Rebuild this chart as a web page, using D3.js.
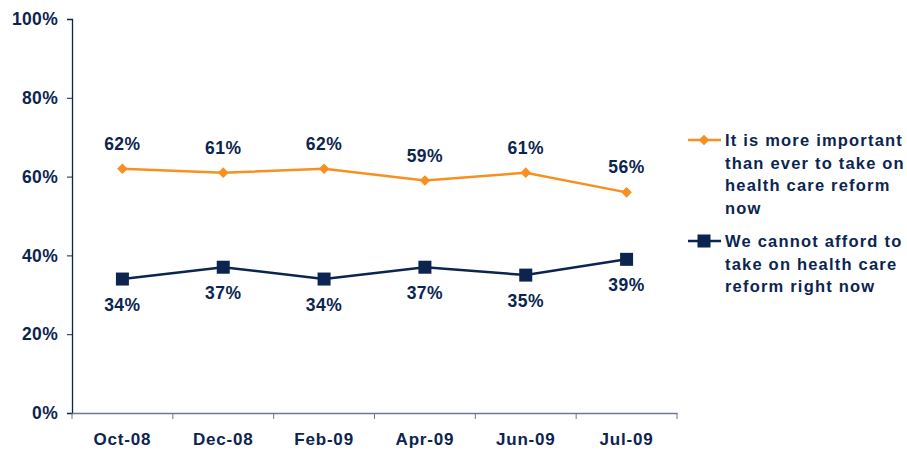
<!DOCTYPE html>
<html><head><meta charset="utf-8">
<script src="https://cdn.jsdelivr.net/npm/d3@7"></script>
<style>body{margin:0;background:#fff}svg{display:block}text{font-family:"Liberation Sans",Arial,sans-serif;font-weight:bold;fill:#0c2550}</style>
</head><body><svg id="c" width="907" height="451"></svg>
<script>
const categories = ["Oct-08","Dec-08","Feb-09","Apr-09","Jun-09","Jul-09"];
const importantValues = [62,61,62,59,61,56];
const cannotValues = [34,37,34,37,35,39];
const yTicks = [0,20,40,60,80,100];
const seriesNames = ["It is more important than ever to take on health care reform now","We cannot afford to take on health care reform right now"];
const legendLines = [["It is more important","than ever to take on","health care reform","now"],["We cannot afford to","take on health care","reform right now"]];

const navy="#0c2550", orange="#f7901e";
const svg=d3.select("#c");
const x=d3.scaleBand().domain(categories).range([72,677]);
const y=d3.scaleLinear().domain([0,100]).range([413,19]);

const yAxis=svg.append("g").attr("transform","translate(72,0)")
 .call(d3.axisLeft(y).tickValues(yTicks).tickFormat(d=>d+"%").tickSize(5).tickPadding(9));
yAxis.select(".domain").attr("stroke",navy).attr("stroke-width",1.3);
yAxis.selectAll(".tick line").attr("stroke",navy);
yAxis.selectAll("text").style("font-size","17.5px").style("letter-spacing","0.3px").attr("fill",navy);

const xAxis=svg.append("g").attr("transform","translate(0,413)")
 .call(d3.axisBottom(x).tickSize(0).tickPadding(20));
xAxis.select(".domain").attr("stroke","#6b7890").attr("stroke-width",1.3);
xAxis.selectAll("text").style("font-size","17px").style("letter-spacing","0.8px").attr("fill",navy);
const bounds=[...categories.map(c=>x(c)),677];
svg.append("g").selectAll("line").data(bounds).join("line")
 .attr("x1",d=>d).attr("x2",d=>d).attr("y1",413).attr("y2",419).attr("stroke","#6b7890");

const cx=c=>x(c)+x.bandwidth()/2;
const line=d3.line().x((d,i)=>cx(categories[i])).y(d=>y(d));

svg.append("path").datum(importantValues).attr("d",line).attr("fill","none").attr("stroke",orange).attr("stroke-width",2.5);
svg.append("path").datum(cannotValues).attr("d",line).attr("fill","none").attr("stroke",navy).attr("stroke-width",2.5);

const dia=d3.symbol().type(d3.symbolSquare).size(56);
svg.append("g").selectAll("path").data(importantValues).join("path")
 .attr("d",dia).attr("transform",(d,i)=>`translate(${cx(categories[i])},${y(d)}) rotate(45)`).attr("fill",orange);
svg.append("g").selectAll("rect").data(cannotValues).join("rect")
 .attr("x",(d,i)=>cx(categories[i])-6.5).attr("y",d=>y(d)-6.5).attr("width",13).attr("height",13).attr("fill",navy);

svg.append("g").selectAll("text").data(importantValues).join("text")
 .attr("x",(d,i)=>cx(categories[i])).attr("y",d=>y(d)-19).attr("text-anchor","middle")
 .style("font-size","17.5px").style("letter-spacing","0.5px").text(d=>d+"%");
svg.append("g").selectAll("text").data(cannotValues).join("text")
 .attr("x",(d,i)=>cx(categories[i])).attr("y",d=>y(d)+32).attr("text-anchor","middle")
 .style("font-size","17.5px").style("letter-spacing","0.5px").text(d=>d+"%");

// legend
const lg=svg.append("g");
const ly=[140,241];
lg.append("line").attr("x1",688).attr("x2",721).attr("y1",ly[0]).attr("y2",ly[0]).attr("stroke",orange).attr("stroke-width",2.5);
lg.append("path").attr("d",dia).attr("transform",`translate(704,${ly[0]}) rotate(45)`).attr("fill",orange);
lg.append("line").attr("x1",688).attr("x2",721).attr("y1",ly[1]).attr("y2",ly[1]).attr("stroke",navy).attr("stroke-width",2.5);
lg.append("rect").attr("x",697.5).attr("y",ly[1]-6.5).attr("width",13).attr("height",13).attr("fill",navy);
legendLines.forEach((lines,k)=>{
  const t=lg.append("text").attr("x",725).attr("y",ly[k]+6).style("font-size","16.5px").style("letter-spacing","1.2px");
  lines.forEach((s,i)=>t.append("tspan").attr("x",725).attr("dy",i===0?0:22.5).text(s));
});
</script></body></html>
